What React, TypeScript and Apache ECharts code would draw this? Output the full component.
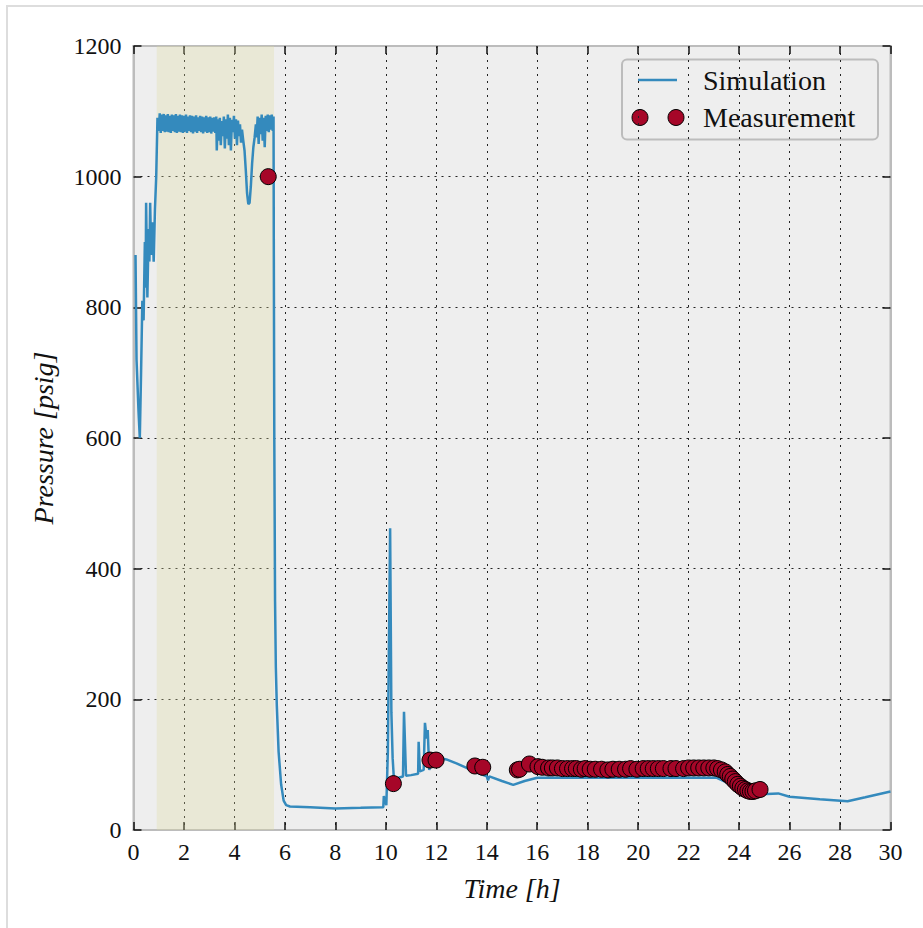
import React, { useEffect, useRef } from "react";
import * as echarts from "echarts";

const xTicks = [0, 2, 4, 6, 8, 10, 12, 14, 16, 18, 20, 22, 24, 26, 28, 30];
const yTicks = [0, 200, 400, 600, 800, 1000, 1200];

const shadedRange = [0.92, 5.57];

const simulation: [number, number][] = [
  [0.08, 880], [0.12, 720], [0.2, 640], [0.25, 600], [0.3, 700], [0.35, 810], [0.4, 780],
  [0.45, 900], [0.48, 830], [0.5, 960], [0.55, 815], [0.6, 920], [0.63, 870], [0.66, 960],
  [0.7, 880], [0.75, 930], [0.8, 870], [0.85, 950], [0.9, 1000], [0.95, 1090],
  [1.0, 1070], [1.04, 1097], [1.08, 1067], [1.12, 1095], [1.16, 1070], [1.2, 1096], [1.24, 1068],
  [1.28, 1094], [1.32, 1069], [1.36, 1096], [1.4, 1068], [1.44, 1093], [1.48, 1067], [1.52, 1095],
  [1.56, 1070], [1.6, 1094], [1.64, 1068], [1.68, 1096], [1.72, 1067], [1.76, 1093], [1.8, 1069],
  [1.84, 1095], [1.88, 1068], [1.92, 1094], [1.96, 1067], [2.0, 1093], [2.04, 1069], [2.08, 1095],
  [2.12, 1067], [2.16, 1092], [2.2, 1070], [2.24, 1094], [2.28, 1068], [2.32, 1093], [2.36, 1066],
  [2.4, 1092], [2.44, 1069], [2.48, 1094], [2.52, 1067], [2.56, 1091], [2.6, 1070], [2.64, 1093],
  [2.68, 1068], [2.72, 1092], [2.76, 1066], [2.8, 1091], [2.84, 1069], [2.88, 1093], [2.92, 1067],
  [2.96, 1091], [3.0, 1068], [3.04, 1092], [3.08, 1066], [3.12, 1090], [3.16, 1069], [3.2, 1091],
  [3.24, 1067], [3.28, 1092], [3.3, 1040], [3.34, 1088], [3.38, 1055], [3.42, 1090], [3.46, 1048],
  [3.5, 1085], [3.54, 1062], [3.58, 1092], [3.62, 1043], [3.66, 1088], [3.7, 1058], [3.74, 1095],
  [3.78, 1048], [3.82, 1090], [3.86, 1040], [3.9, 1087], [3.94, 1068], [3.98, 1093], [4.02, 1058],
  [4.06, 1088], [4.1, 1048], [4.14, 1086], [4.18, 1062], [4.22, 1080], [4.26, 1052], [4.3, 1072],
  [4.35, 1055], [4.4, 1040], [4.45, 1010], [4.5, 975], [4.55, 958], [4.6, 960], [4.65, 985],
  [4.7, 1020], [4.75, 1045], [4.8, 1060], [4.85, 1080], [4.88, 1060], [4.92, 1092], [4.96, 1050],
  [5.0, 1090], [5.04, 1065], [5.08, 1095], [5.12, 1055], [5.16, 1090], [5.2, 1045], [5.24, 1093],
  [5.28, 1070], [5.32, 1095], [5.36, 1068], [5.4, 1094], [5.44, 1072], [5.48, 1095], [5.52, 1070],
  [5.55, 1092], [5.56, 900], [5.58, 600], [5.61, 350], [5.64, 250], [5.68, 190], [5.75, 120],
  [5.85, 70], [5.95, 45], [6.05, 38], [6.2, 36], [7, 35], [8, 33], [9, 34], [9.9, 35],
  [9.92, 52], [9.96, 45], [10.02, 38], [10.08, 120], [10.17, 462], [10.22, 180], [10.27, 110],
  [10.32, 78], [10.5, 80], [10.68, 82], [10.72, 181], [10.8, 83], [11.0, 84], [11.28, 86],
  [11.3, 135], [11.35, 90], [11.5, 92], [11.55, 164], [11.62, 140], [11.66, 153], [11.72, 92],
  [11.8, 100], [11.95, 112], [12.4, 108], [12.8, 102], [13.2, 95], [13.6, 88], [14.0, 82],
  [14.05, 76], [14.1, 82], [14.6, 75], [15.05, 69], [15.5, 75], [16.0, 80], [17, 80], [18, 80],
  [19, 80], [20, 80], [21, 80], [22, 80], [23.1, 80], [23.5, 73], [24.0, 62], [24.3, 56],
  [24.6, 55], [25.1, 55], [25.55, 56], [26.0, 51], [27.2, 47], [28.3, 44], [29.0, 50], [30, 59],
];

const measurement: [number, number][] = [
  [5.34, 1000], [10.3, 71], [11.75, 107], [11.99, 107], [13.53, 98], [13.84, 96],
  [15.21, 92], [15.3, 93], [15.69, 101], [16.03, 97], [16.2, 96], [16.45, 95], [16.6, 95],
  [16.8, 95], [17.0, 94], [17.2, 94], [17.4, 94], [17.55, 94], [17.75, 93], [17.9, 94],
  [18.1, 93], [18.3, 93], [18.55, 93], [18.8, 92], [19.0, 93], [19.25, 93], [19.5, 93],
  [19.7, 94], [19.95, 93], [20.2, 94], [20.4, 94], [20.6, 94], [20.8, 94], [21.0, 94],
  [21.3, 94], [21.5, 94], [21.8, 94], [22.0, 95], [22.2, 95], [22.4, 95], [22.6, 95],
  [22.8, 95], [23.0, 95], [23.15, 94], [23.3, 92], [23.45, 89], [23.55, 85], [23.65, 82],
  [23.75, 78], [23.85, 74], [23.95, 70], [24.05, 67], [24.15, 64], [24.25, 62], [24.35, 60],
  [24.45, 59], [24.55, 59], [24.65, 60], [24.83, 62],
];

const legendLabels = ["Simulation", "Measurement"];
const axisTitles = { x: "Time [h]", y: "Pressure [psig]" };

const SERIF = "'Liberation Serif', 'DejaVu Serif', serif";
const LINE_COLOR = "#348ABD";
const DOT_COLOR = "#A60628";

function tick() {
  return { show: true, inside: true, length: 8, lineStyle: { color: "#111", width: 1.5 } };
}
function frameLine() {
  return { show: true, onZero: false, lineStyle: { color: "#bcbcbc", width: 2 } };
}

export default function App() {
  const ref = useRef<HTMLDivElement>(null);
  useEffect(() => {
    if (!ref.current) return;
    const chart = echarts.init(ref.current, undefined, { renderer: "svg" });
    const xMin = xTicks[0];
    const xMax = xTicks[xTicks.length - 1];
    const yMin = yTicks[0];
    const yMax = yTicks[yTicks.length - 1];
    chart.setOption({
      animation: false,
      backgroundColor: "#ffffff",
      grid: {
        left: 133.5,
        right: 32.5,
        top: 46,
        bottom: 98,
        show: true,
        backgroundColor: "#eeeeee",
        borderColor: "#bcbcbc",
        borderWidth: 2,
      },
      xAxis: [
        {
          type: "value",
          min: xMin,
          max: xMax,
          interval: 2,
          position: "bottom",
          name: axisTitles.x,
          nameLocation: "middle",
          nameGap: 44,
          nameTextStyle: { fontFamily: SERIF, fontStyle: "italic", fontSize: 28, color: "#111" },
          axisLine: frameLine(),
          axisTick: tick(),
          axisLabel: { fontFamily: SERIF, fontSize: 24, color: "#111", margin: 10 },
          splitLine: { show: true, lineStyle: { color: "#222", type: [2, 5], width: 1 } },
        },
        {
          type: "value",
          min: xMin,
          max: xMax,
          interval: 2,
          position: "top",
          axisLine: frameLine(),
          axisTick: tick(),
          axisLabel: { show: false },
          splitLine: { show: false },
        },
      ],
      yAxis: [
        {
          type: "value",
          min: yMin,
          max: yMax,
          interval: 200,
          position: "left",
          name: axisTitles.y,
          nameLocation: "middle",
          nameGap: 76,
          nameTextStyle: { fontFamily: SERIF, fontStyle: "italic", fontSize: 28, color: "#111" },
          axisLine: frameLine(),
          axisTick: tick(),
          axisLabel: {
            fontFamily: SERIF,
            fontSize: 24,
            color: "#111",
            margin: 12,
            formatter: (v: number) => String(v),
          },
          splitLine: { show: true, lineStyle: { color: "#222", type: [2, 5], width: 1 } },
        },
        {
          type: "value",
          min: yMin,
          max: yMax,
          interval: 200,
          position: "right",
          axisLine: frameLine(),
          axisTick: tick(),
          axisLabel: { show: false },
          splitLine: { show: false },
        },
      ],
      series: [
        {
          name: legendLabels[0],
          type: "line",
          data: simulation,
          showSymbol: false,
          symbol: "none",
          lineStyle: { color: LINE_COLOR, width: 2.5 },
          z: 3,
          markArea: {
            silent: true,
            itemStyle: { color: "rgba(222,220,160,0.3)" },
            data: [[{ xAxis: shadedRange[0] }, { xAxis: shadedRange[1] }]],
          },
        },
        {
          name: legendLabels[1],
          type: "scatter",
          data: measurement,
          symbol: "circle",
          symbolSize: 16,
          itemStyle: { color: DOT_COLOR, borderColor: "#000", borderWidth: 1, opacity: 1 },
          z: 4,
        },
      ],
      graphic: [
        {
          type: "rect",
          shape: { x: 7, y: 6, width: 940, height: 940 },
          style: { fill: "none", stroke: "#dddddd", lineWidth: 2 },
          silent: true,
        },
        {
          type: "group",
          z: 100,
          children: [
            {
              type: "rect",
              shape: { x: 622, y: 59.5, width: 256, height: 80, r: 5 },
              style: { fill: "#eeeeee", stroke: "#bcbcbc", lineWidth: 2 },
            },
            {
              type: "line",
              shape: { x1: 638, y1: 80, x2: 677, y2: 80 },
              style: { stroke: LINE_COLOR, lineWidth: 2.5 },
            },
            {
              type: "circle",
              shape: { cx: 640, cy: 117.5, r: 8 },
              style: { fill: DOT_COLOR, stroke: "#000", lineWidth: 1 },
            },
            {
              type: "circle",
              shape: { cx: 676, cy: 117.5, r: 8 },
              style: { fill: DOT_COLOR, stroke: "#000", lineWidth: 1 },
            },
            {
              type: "text",
              x: 703,
              y: 80,
              style: { text: legendLabels[0], font: `28px ${SERIF}`, fill: "#111", verticalAlign: "middle" },
            },
            {
              type: "text",
              x: 703,
              y: 117.5,
              style: { text: legendLabels[1], font: `28px ${SERIF}`, fill: "#111", verticalAlign: "middle" },
            },
          ],
        },
      ],
    });
    return () => chart.dispose();
  }, []);
  return (
    <div
      ref={ref}
      style={{ position: "fixed", left: 0, top: 0, width: 923, height: 928, background: "#fff" }}
    />
  );
}
